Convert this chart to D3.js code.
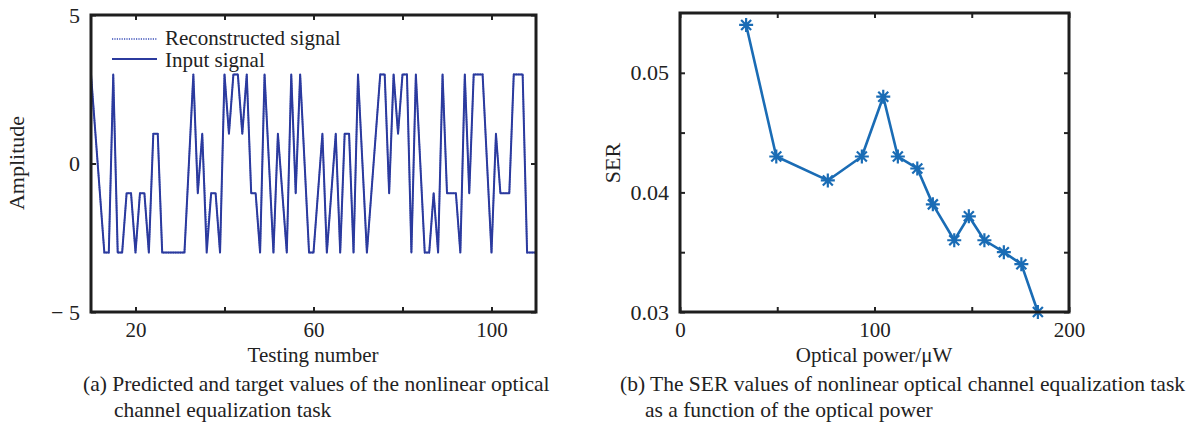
<!DOCTYPE html>
<html>
<head>
<meta charset="utf-8">
<script src="https://cdn.jsdelivr.net/npm/d3@7"></script>
<style>
  body { margin: 0; background: #fff; }
  text { font-family: "Liberation Serif", "Times New Roman", serif; fill: #222; }
</style>
</head>
<body>
<svg id="chart" width="1191" height="434"></svg>
<script>
// (a) signal comparison, testing numbers 10..110
const testingStart = 10;
const inputSignal = [
  3, 1, -1, -3, -3, 3, -3, -3, -1, -1,
  -3, -1, -1, -3, 1, 1, -3, -3, -3, -3,
  -3, -3, 0, 3, -1, 1, -3, -1, -1, -3,
  3, 1, 3, 3, 1, 3, -1, -1, -3, 3,
  0, -3, 1, -1, -3, 3, -1, 3, 0, -3,
  -3, -1, 1, -3, -1, 1, -3, 1, 1, -3,
  3, 0, -3, -1, 1, 3, 3, -1, 3, 1,
  3, 3, -3, 3, 0, -3, -3, -1, -3, 3,
  -1, -1, -1, -3, 3, -1, 3, 3, 3, 0,
  -3, 1, -1, -1, -1, 3, 3, 3, -3, -3, -3
];
const reconstructedSignal = [
  3, 1, -1, -3, -3, 3, -3, -3, -1, -1,
  -3, -1, -1, -3, 1, 1, -3, -3, -3, -3,
  -3, -3, 0, 3, -1, 1, -2.6, -1, -1, -3,
  3, 1, 3, 3, 1, 3, -1, -1, -3, 3,
  0, -3, 1, -1, -3, 3, -1, 3, 0, -3,
  -3, -1, 1, -3, -1, 1, -3, 1, 1, -3,
  3, 0, -3, -1, 1, 3, 3, -1, 3, 1,
  3, 3, -3, 3, 0, -3, -3, -1, -3, 3,
  -1, -1, -1, -3, 3, -1, 3, 3, 3, 0,
  -3, 1, -1, -1, -1, 3, 3, 3, -3, -3, -3
];
const signalXTicks = [20, 40, 60, 80, 100];
const signalXLabels = [20, 60, 100];
const signalYTicks = [-5, 0, 5];

// (b) SER vs optical power
const opticalPower = [34, 49.5, 76, 93.5, 104.5, 112, 122, 130, 141, 148.5, 156.5, 166.5, 175.5, 184];
const serValues = [0.054, 0.043, 0.041, 0.043, 0.048, 0.043, 0.042, 0.039, 0.036, 0.038, 0.036, 0.035, 0.034, 0.030];
const powerXTicks = [0, 50, 100, 150, 200];
const powerXLabels = [0, 100, 200];
const serYTicks = [0.03, 0.035, 0.04, 0.045, 0.05];
const serYLabels = [0.03, 0.04, 0.05];

const svg = d3.select('#chart');

// Box with inward ticks on all four sides, MATLAB style
function drawBox(g, x, y, xTicks, xLabels, yTicks, yLabels, yFormat) {
  const [x0, x1] = x.range();
  const [y0, y1] = y.range();
  const w = x1 - x0, h = y0 - y1;

  g.append('g')
    .attr('transform', `translate(0,${y0})`)
    .call(d3.axisBottom(x).tickValues(xTicks).tickSizeInner(-5).tickSizeOuter(0).tickPadding(10)
      .tickFormat(d => xLabels.includes(d) ? d : ''))
    .call(a => a.select('.domain').remove())
    .call(a => a.selectAll('line').attr('stroke', '#222').attr('stroke-width', 2))
    .call(a => a.selectAll('text').attr('font-size', 21).attr('font-family', null).attr('fill', '#222'));

  g.append('g')
    .attr('transform', `translate(0,${y1})`)
    .call(d3.axisTop(x).tickValues(xTicks).tickSizeInner(-5).tickSizeOuter(0).tickFormat(''))
    .call(a => a.select('.domain').remove())
    .call(a => a.selectAll('line').attr('stroke', '#222').attr('stroke-width', 2));

  g.append('g')
    .attr('transform', `translate(${x0},0)`)
    .call(d3.axisLeft(y).tickValues(yTicks).tickSizeInner(-5).tickSizeOuter(0).tickPadding(11)
      .tickFormat(d => yLabels.includes(d) ? yFormat(d) : ''))
    .call(a => a.select('.domain').remove())
    .call(a => a.selectAll('line').attr('stroke', '#222').attr('stroke-width', 2))
    .call(a => a.selectAll('text').attr('font-size', 22).attr('font-family', null).attr('fill', '#222'));

  g.append('g')
    .attr('transform', `translate(${x1},0)`)
    .call(d3.axisRight(y).tickValues(yTicks).tickSizeInner(-5).tickSizeOuter(0).tickFormat(''))
    .call(a => a.select('.domain').remove())
    .call(a => a.selectAll('line').attr('stroke', '#222').attr('stroke-width', 2));

  g.append('rect')
    .attr('x', x0).attr('y', y1)
    .attr('width', w).attr('height', h)
    .attr('fill', 'none')
    .attr('stroke', '#1e1e1e')
    .attr('stroke-width', 3);
}

// ---------- (a) ----------
const gA = svg.append('g');
const xA = d3.scaleLinear().domain([10, 110]).range([91, 536]);
const yA = d3.scaleLinear().domain([-5, 5]).range([312, 15]);

const signalLine = d3.line()
  .x((d, i) => xA(testingStart + i))
  .y(d => yA(d));

gA.append('clipPath').attr('id', 'clip-a')
  .append('rect').attr('x', 91).attr('y', 15).attr('width', 445).attr('height', 297);

gA.append('path')
  .datum(reconstructedSignal)
  .attr('clip-path', 'url(#clip-a)')
  .attr('fill', 'none')
  .attr('stroke', '#3a4fb8')
  .attr('stroke-width', 1.6)
  .attr('stroke-dasharray', '1.2 1.2')
  .attr('d', signalLine);

gA.append('path')
  .datum(inputSignal)
  .attr('clip-path', 'url(#clip-a)')
  .attr('fill', 'none')
  .attr('stroke', '#2b3a9e')
  .attr('stroke-width', 2)
  .attr('stroke-linejoin', 'round')
  .attr('d', signalLine);

drawBox(gA, xA, yA, signalXTicks, signalXLabels, signalYTicks, signalYTicks,
  d => d < 0 ? '\u2212 ' + Math.abs(d) : d);

// legend
const legendA = gA.append('g');
legendA.append('line')
  .attr('x1', 112).attr('x2', 157).attr('y1', 39).attr('y2', 39)
  .attr('stroke', '#3a4fb8').attr('stroke-width', 1.6).attr('stroke-dasharray', '1.2 1.2');
legendA.append('text').attr('x', 165).attr('y', 45).attr('font-size', 21).text('Reconstructed signal');
legendA.append('line')
  .attr('x1', 112).attr('x2', 157).attr('y1', 59).attr('y2', 59)
  .attr('stroke', '#2b3a9e').attr('stroke-width', 2);
legendA.append('text').attr('x', 165).attr('y', 67).attr('font-size', 21).text('Input signal');

gA.append('text')
  .attr('transform', 'rotate(-90)')
  .attr('x', -163).attr('y', 24)
  .attr('text-anchor', 'middle')
  .attr('font-size', 22)
  .text('Amplitude');

gA.append('text')
  .attr('x', 313).attr('y', 362)
  .attr('text-anchor', 'middle')
  .attr('font-size', 21)
  .text('Testing number');

gA.append('text').attr('x', 83).attr('y', 391).attr('font-size', 21.5)
  .text('(a) Predicted and target values of the nonlinear optical');
gA.append('text').attr('x', 114).attr('y', 417).attr('font-size', 21.5)
  .text('channel equalization task');

// ---------- (b) ----------
const gB = svg.append('g');
const xB = d3.scaleLinear().domain([0, 200]).range([680, 1069]);
const yB = d3.scaleLinear().domain([0.03, 0.055]).range([312, 13]);

gB.append('path')
  .datum(serValues)
  .attr('fill', 'none')
  .attr('stroke', '#1a6cb5')
  .attr('stroke-width', 2.6)
  .attr('stroke-linejoin', 'round')
  .attr('d', d3.line()
    .x((d, i) => xB(opticalPower[i]))
    .y(d => yB(d)));

const star = 'M-7,0L7,0M0,-7L0,7M-5,-5L5,5M-5,5L5,-5';
gB.selectAll('.marker')
  .data(serValues)
  .enter()
  .append('path')
  .attr('class', 'marker')
  .attr('transform', (d, i) => `translate(${xB(opticalPower[i])},${yB(d)})`)
  .attr('d', star)
  .attr('fill', 'none')
  .attr('stroke', '#1a6cb5')
  .attr('stroke-width', 2.2);

drawBox(gB, xB, yB, powerXTicks, powerXLabels, serYTicks, serYLabels, d => d3.format('.2f')(d));

gB.append('text')
  .attr('transform', 'rotate(-90)')
  .attr('x', -163).attr('y', 620)
  .attr('text-anchor', 'middle')
  .attr('font-size', 22)
  .text('SER');

gB.append('text')
  .attr('x', 874).attr('y', 362)
  .attr('text-anchor', 'middle')
  .attr('font-size', 21)
  .text('Optical power/\u03bcW');

gB.append('text').attr('x', 620).attr('y', 391).attr('font-size', 21.5)
  .text('(b) The SER values of nonlinear optical channel equalization task');
gB.append('text').attr('x', 645).attr('y', 417).attr('font-size', 21.5)
  .text('as a function of the optical power');
</script>
</body>
</html>
